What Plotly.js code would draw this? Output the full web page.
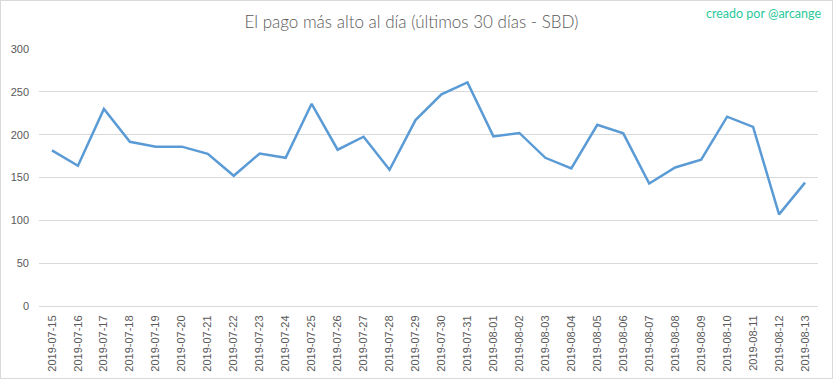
<!DOCTYPE html>
<html>
<head>
<meta charset="utf-8">
<script src="https://cdn.plot.ly/plotly-3.0.1.min.js"></script>
<style>
  html, body { margin: 0; padding: 0; background: #fff; }
  #wrap { position: relative; width: 833px; height: 379px; }
  #chart { width: 833px; height: 379px; }
  #frame { position: absolute; left: 0; top: 0; width: 831px; height: 377px; border: 1px solid #d9d9d9; pointer-events: none; }
</style>
</head>
<body>
<div id="wrap"><div id="chart"></div><div id="frame"></div></div>
<script>
const dates = ["2019-07-15","2019-07-16","2019-07-17","2019-07-18","2019-07-19","2019-07-20","2019-07-21","2019-07-22","2019-07-23","2019-07-24","2019-07-25","2019-07-26","2019-07-27","2019-07-28","2019-07-29","2019-07-30","2019-07-31","2019-08-01","2019-08-02","2019-08-03","2019-08-04","2019-08-05","2019-08-06","2019-08-07","2019-08-08","2019-08-09","2019-08-10","2019-08-11","2019-08-12","2019-08-13"];
const topPayout = [181.6,163.7,230,191.7,186,186,177.7,152,178,173,236,182.4,197.6,159,217,247,261,198,202,173,160.5,211.5,201.5,143,161.7,170.7,221,209,107,144];
const yTicks = [0,50,100,150,200,250,300];
const titleText = "El pago más alto al día (últimos 30 días - SBD)";
const creditText = "creado por @arcange";

const trace = {
  x: dates, y: topPayout, type: "scatter", mode: "lines",
  line: { color: "#5b9bd5", width: 2.5 },
  hoverinfo: "x+y"
};
const layout = {
  width: 833, height: 379,
  margin: { l: 39, r: 15, t: 49, b: 73 },
  paper_bgcolor: "#ffffff", plot_bgcolor: "#ffffff",
  showlegend: false,
  title: { text: titleText, x: 0.494, xanchor: "center", y: 0.942, yanchor: "middle",
    font: { family: "Lato, 'Open Sans', sans-serif", size: 17, weight: 300, color: "#595959" } },
  xaxis: {
    type: "category", range: [-0.5, dates.length - 0.5],
    tickangle: -90, tickfont: { family: "'Liberation Sans', Arial, sans-serif", size: 11, color: "#595959" },
    ticklabelstandoff: 4,
    showgrid: false, showline: true, linecolor: "#d9d9d9", linewidth: 1, ticks: "", ticklen: 0,
    zeroline: false, fixedrange: true
  },
  yaxis: {
    range: [0, 300], tickvals: yTicks, ticktext: yTicks.map(String),
    tickfont: { family: "'Liberation Sans', Arial, sans-serif", size: 11, color: "#595959" },
    ticklabelstandoff: 9,
    showgrid: true, gridcolor: "#d9d9d9", gridwidth: 1, zeroline: false,
    showline: false, ticks: "", fixedrange: true
  },
  annotations: [{
    text: creditText, xref: "paper", yref: "paper",
    x: 1.0065, xanchor: "right", y: 1.139, yanchor: "middle", showarrow: false,
    font: { family: "Lato, 'Open Sans', sans-serif", size: 12.5, color: "#2bc99b" }
  }]
};
Plotly.newPlot("chart", [trace], layout, { displayModeBar: false, staticPlot: true });
</script>
</body>
</html>
